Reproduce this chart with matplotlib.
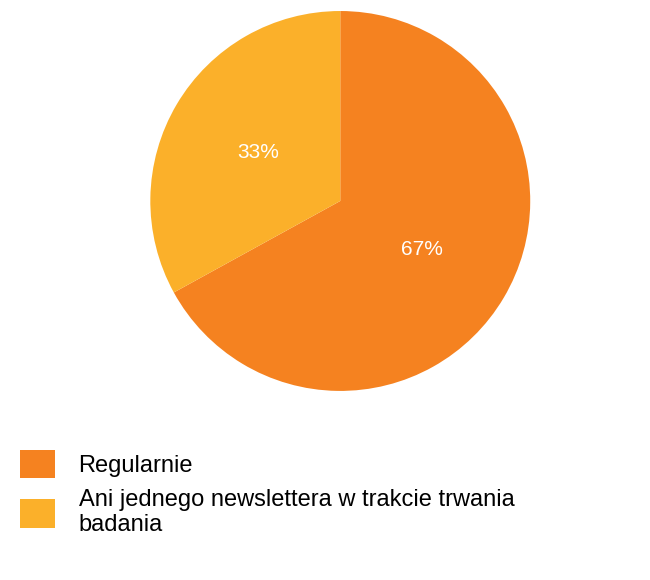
import matplotlib.pyplot as plt

plt.rcParams['font.family'] = ['Liberation Sans', 'DejaVu Sans']

labels = ['Regularnie', 'Ani jednego newslettera w trakcie trwania\nbadania']
values = [67, 33]
colors = ['#F58220', '#FBB02A']

fig = plt.figure(figsize=(6.5, 5.8), dpi=100)
ax = fig.add_axes([0.231, 0.326, 0.585, 0.655])
wedges, texts, autotexts = ax.pie(values, colors=colors, startangle=90, counterclock=False,
                                  autopct='%d%%', pctdistance=0.5,
                                  textprops={'color': 'white', 'fontsize': 15})
ax.set_xlim(-1, 1)
ax.set_ylim(-1, 1)
ax.set_aspect('equal')

fig.legend(wedges, labels, loc='upper left', bbox_to_anchor=(0.03, 0.225),
           frameon=False, fontsize=17, handlelength=1.5, handleheight=1.5,
           handletextpad=1.0, labelspacing=0.45, borderaxespad=0, borderpad=0)

fig.savefig('out.png', dpi=100)
